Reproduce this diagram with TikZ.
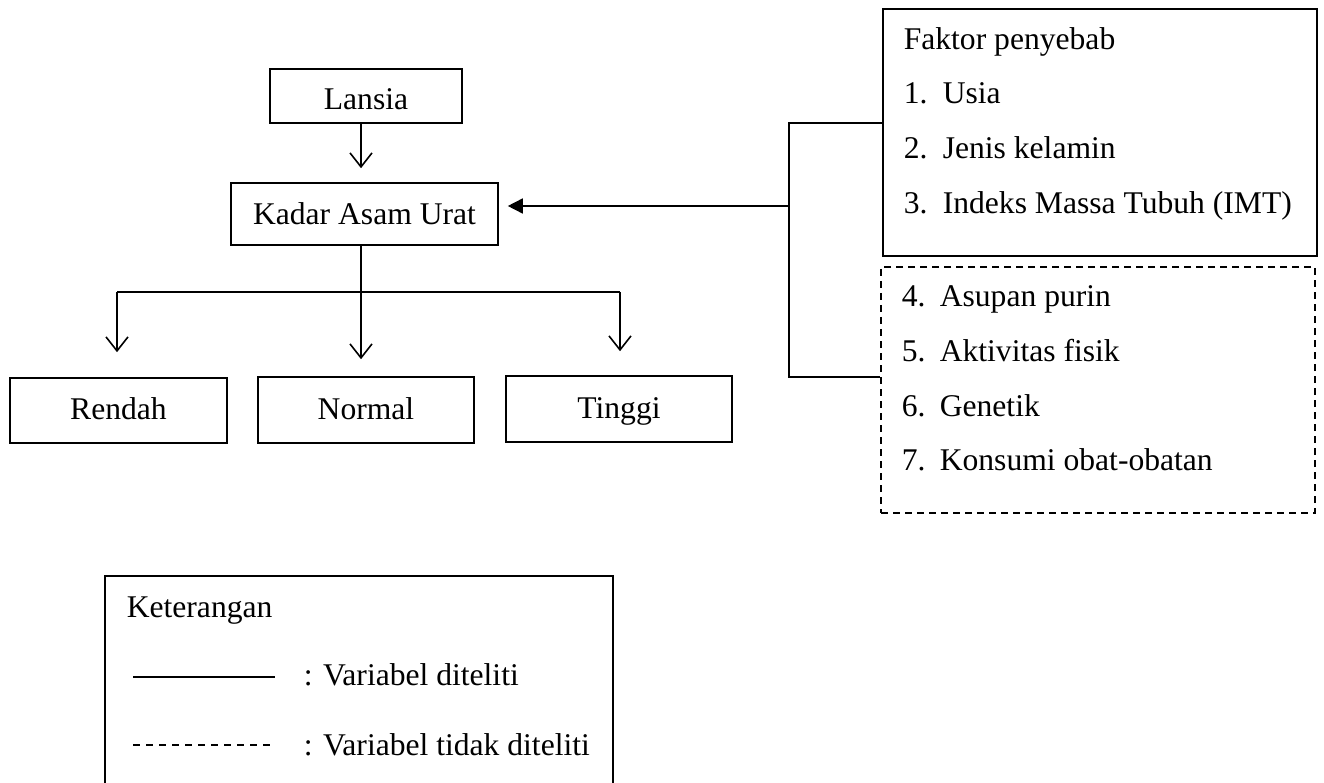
\documentclass[tikz,border=0pt]{standalone}
\usepackage{fontspec}
\setmainfont{Liberation Serif}
\usetikzlibrary{arrows.meta}
\begin{document}
\begin{tikzpicture}[x=1pt,y=-1pt,
  every node/.style={font=\fontsize{31.6}{38}\selectfont, inner sep=0pt},
  line width=1.6pt,
  boxnode/.style={draw, rectangle, line width=1.6pt, text height=22pt, text depth=4pt},
  dashbox/.style={draw, rectangle, line width=1.6pt, dash pattern=on 7pt off 5pt},
  openarrow/.style={-{Straight Barb[length=14pt,width=22pt,line width=1.6pt]}},
  fillarrow/.style={-{Triangle[length=15pt,width=15pt]}},
  txt/.style={anchor=base west}]
\useasboundingbox (0,0) rectangle (1324,783);

% main boxes
\node[boxnode, minimum width=192pt, minimum height=54pt, text height=34pt, text depth=6pt] (lansia) at (366,96) {Lansia};
\node[boxnode, minimum width=267pt, minimum height=62pt, text height=26pt, text depth=4pt] (kadar) at (364.5,214) {Kadar Asam Urat};
\node[boxnode, minimum width=217pt, minimum height=65pt] (rendah) at (118.5,410.5) {Rendah};
\node[boxnode, minimum width=216pt, minimum height=66pt] (normal) at (366,410) {Normal};
\node[boxnode, minimum width=226pt, minimum height=66pt] (tinggi) at (619,409) {Tinggi};

% factor boxes
\node[draw, rectangle, line width=1.6pt, minimum width=434pt, minimum height=247pt] (faktor) at (1100,132.5) {};
\node[dashbox, minimum width=434pt, minimum height=246pt] (faktor2) at (1098,390) {};

\node[txt] (f0) at (903,50) {Faktor penyebab};
\node[txt] (n1) at (903,104) {1.};
\node[txt] (t1) at (942,104) {Usia};
\node[txt] (n2) at (903,159) {2.};
\node[txt] (t2) at (942,159) {Jenis kelamin};
\node[txt] (n3) at (903,213.3) {3.};
\node[txt] (t3) at (942,213.3) {Indeks Massa Tubuh (IMT)};
\node[txt] (n4) at (901,306.7) {4.};
\node[txt] (t4) at (939,306.7) {Asupan purin};
\node[txt] (n5) at (901,361.7) {5.};
\node[txt] (t5) at (939,361.7) {Aktivitas fisik};
\node[txt] (n6) at (901,416) {6.};
\node[txt] (t6) at (939,416) {Genetik};
\node[txt] (n7) at (901,470.7) {7.};
\node[txt] (t7) at (939,470.7) {Konsumi obat-obatan};

% connectors
\draw[openarrow, shorten >=14pt] (lansia.south -| 361,0) -- (kadar.north -| 361,0);

\coordinate (split) at (361,292);
\coordinate (sl) at (117,292);
\coordinate (sr) at (620,292);
\draw (kadar.south -| split) -- (split);
\draw (sl) -- (sr);
\draw[openarrow, shorten >=25pt] (sl) -- (rendah.north -| sl);
\draw[openarrow, shorten >=17pt] (split) -- (normal.north -| split);
\draw[openarrow, shorten >=24pt] (sr) -- (tinggi.north -| sr);

\coordinate (bt) at (789,123);
\coordinate (bm) at (789,206);
\coordinate (bb) at (789,377);
\draw (faktor.west |- bt) -- (bt) -- (bb) -- (faktor2.west |- bb);
\draw[fillarrow, shorten >=9pt] (bm) -- (bm -| kadar.east);

% legend
\coordinate (lg1) at (105,783);
\coordinate (lg2) at (105,576);
\coordinate (lg3) at (613,576);
\coordinate (lg4) at (613,783);
\draw (lg1) -- (lg2) -- (lg3) -- (lg4);
\node[txt] (ket) at (126,617) {Keterangan};
\coordinate (s1) at (133,677);
\coordinate (s2) at (275,677);
\draw[line width=1.4pt] (s1) -- (s2);
\node[txt] (l1) at (303,685) {: Variabel diteliti};
\coordinate (d1) at (133,745);
\coordinate (d2) at (275,745);
\draw[line width=1.4pt, dash pattern=on 7pt off 6pt] (d1) -- (d2);
\node[txt] (l2) at (303,755) {: Variabel tidak diteliti};
\end{tikzpicture}
\end{document}
